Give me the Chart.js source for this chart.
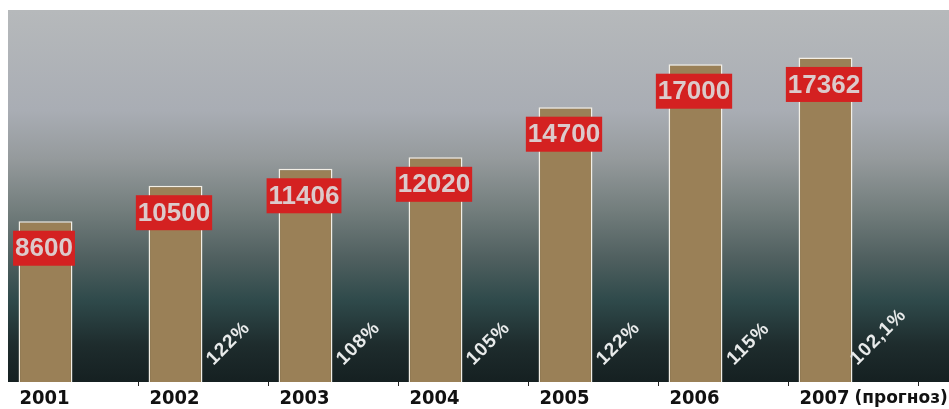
<!DOCTYPE html>
<html>
<head>
<meta charset="utf-8">
<script src="https://cdn.jsdelivr.net/npm/chart.js@4/dist/chart.umd.min.js"></script>
<style>
  html, body { margin: 0; padding: 0; background: #ffffff; }
  #wrap { width: 949px; height: 409px; }
</style>
</head>
<body>
<div id="wrap"><canvas id="chart" width="949" height="409"></canvas></div>
<script>
// Yearly volume and year-on-year growth
const years = ['2001', '2002', '2003', '2004', '2005', '2006', '2007'];
const volumes = [8600, 10500, 11406, 12020, 14700, 17000, 17362];
const growthPct = [null, 122, 108, 105, 122, 115, 102.1];
const forecastNote = '(прогноз)';

const fmtPct = v => String(v).replace('.', ',') + '%';

// Vertical grey-to-teal backdrop behind the plot
const backdrop = {
  id: 'backdrop',
  beforeDraw(chart) {
    const { ctx, chartArea: a, width } = chart;
    const g = ctx.createLinearGradient(0, a.top, 0, a.bottom);
    g.addColorStop(0.00, '#b6b9bb');
    g.addColorStop(0.27, '#a9adb4');
    g.addColorStop(0.40, '#959a9c');
    g.addColorStop(0.54, '#727d7c');
    g.addColorStop(0.67, '#4f5f5f');
    g.addColorStop(0.78, '#2f4a4b');
    g.addColorStop(0.90, '#1e2c2d');
    g.addColorStop(1.00, '#152021');
    ctx.save();
    ctx.fillStyle = g;
    ctx.fillRect(a.left, a.top, width - a.left, a.bottom - a.top);
    ctx.restore();
  }
};

// Red value boxes on the bars and rotated growth figures beside them
const markLabels = {
  id: 'markLabels',
  afterDatasetsDraw(chart) {
    const { ctx, chartArea: a } = chart;
    ctx.save();
    const vMeta = chart.getDatasetMeta(0);
    ctx.font = 'bold 26px "Liberation Sans", Arial, sans-serif';
    ctx.textAlign = 'center';
    ctx.textBaseline = 'middle';
    vMeta.data.forEach((bar, i) => {
      const txt = String(volumes[i]);
      const w = ctx.measureText(txt).width + 4;
      const h = 35;
      const cy = bar.y + 27;
      ctx.fillStyle = '#d42121';
      ctx.fillRect(bar.x - 1.5 - w / 2, cy - h / 2, w, h);
      ctx.fillStyle = '#dccacb';
      ctx.fillText(txt, bar.x - 1.5, cy + 1);
    });

    const gMeta = chart.getDatasetMeta(1);
    ctx.font = 'bold 19px "Liberation Sans", Arial, sans-serif';
    ctx.letterSpacing = '1px';
    ctx.fillStyle = '#e8eaea';
    gMeta.data.forEach((el, i) => {
      if (growthPct[i] == null) return;
      const txt = fmtPct(growthPct[i]);
      const w = ctx.measureText(txt).width;
      const s = Math.SQRT1_2;
      const cx = el.x - 2;
      const cy = a.bottom - 15 - (w / 2) * s - 5;
      ctx.save();
      ctx.translate(cx, cy);
      ctx.rotate(-Math.PI / 4);
      ctx.textAlign = 'center';
      ctx.textBaseline = 'middle';
      ctx.fillText(txt, 0, 0);
      ctx.restore();
    });
    ctx.restore();
  },
  afterDraw(chart) {
    const { ctx, chartArea: a } = chart;
    const last = years.length - 1;
    const lastBar = chart.getDatasetMeta(0).data[last];
    ctx.save();
    ctx.font = 'bold 17px "DejaVu Sans", sans-serif';
    ctx.fillStyle = '#111111';
    ctx.textAlign = 'left';
    ctx.textBaseline = 'middle';
    ctx.fillText(forecastNote, lastBar.x + 29, a.bottom + 17);
    ctx.restore();
  }
};

new Chart(document.getElementById('chart'), {
  type: 'bar',
  data: {
    labels: years,
    datasets: [
      {
        label: 'Объём',
        data: volumes,
        yAxisID: 'y',
        backgroundColor: '#9a8057',
        borderColor: '#f3efe6',
        borderWidth: 1.5,
        borderSkipped: 'start',
        categoryPercentage: 0.846,
        barPercentage: 0.98
      },
      {
        label: 'Рост',
        data: growthPct,
        yAxisID: 'yGrowth',
        backgroundColor: 'rgba(0,0,0,0)',
        borderWidth: 0,
        categoryPercentage: 0.846,
        barPercentage: 0.98
      }
    ]
  },
  options: {
    responsive: false,
    devicePixelRatio: 1,
    animation: false,
    layout: { padding: { left: 8, top: 10, right: 31, bottom: -2 } },
    plugins: {
      legend: { display: false },
      tooltip: { enabled: false }
    },
    scales: {
      x: {
        offset: true,
        border: { display: false },
        grid: {
          offset: true,
          drawOnChartArea: false,
          drawTicks: true,
          tickLength: 4,
          tickWidth: 1,
          tickColor: c => (c.index === 0 || c.index === years.length) ? 'rgba(0,0,0,0)' : '#222222'
        },
        ticks: {
          autoSkip: false,
          maxRotation: 0,
          padding: 0.5,
          labelOffset: -28.5,
          color: '#111111',
          font: { family: '"DejaVu Sans Condensed", "DejaVu Sans", sans-serif', size: 20, weight: 'bold', lineHeight: 1.2 }
        }
      },
      y: { display: false, min: 0, max: 19900 },
      yGrowth: { display: false, min: 0, max: 200 }
    }
  },
  plugins: [backdrop, markLabels]
});
</script>
</body>
</html>
